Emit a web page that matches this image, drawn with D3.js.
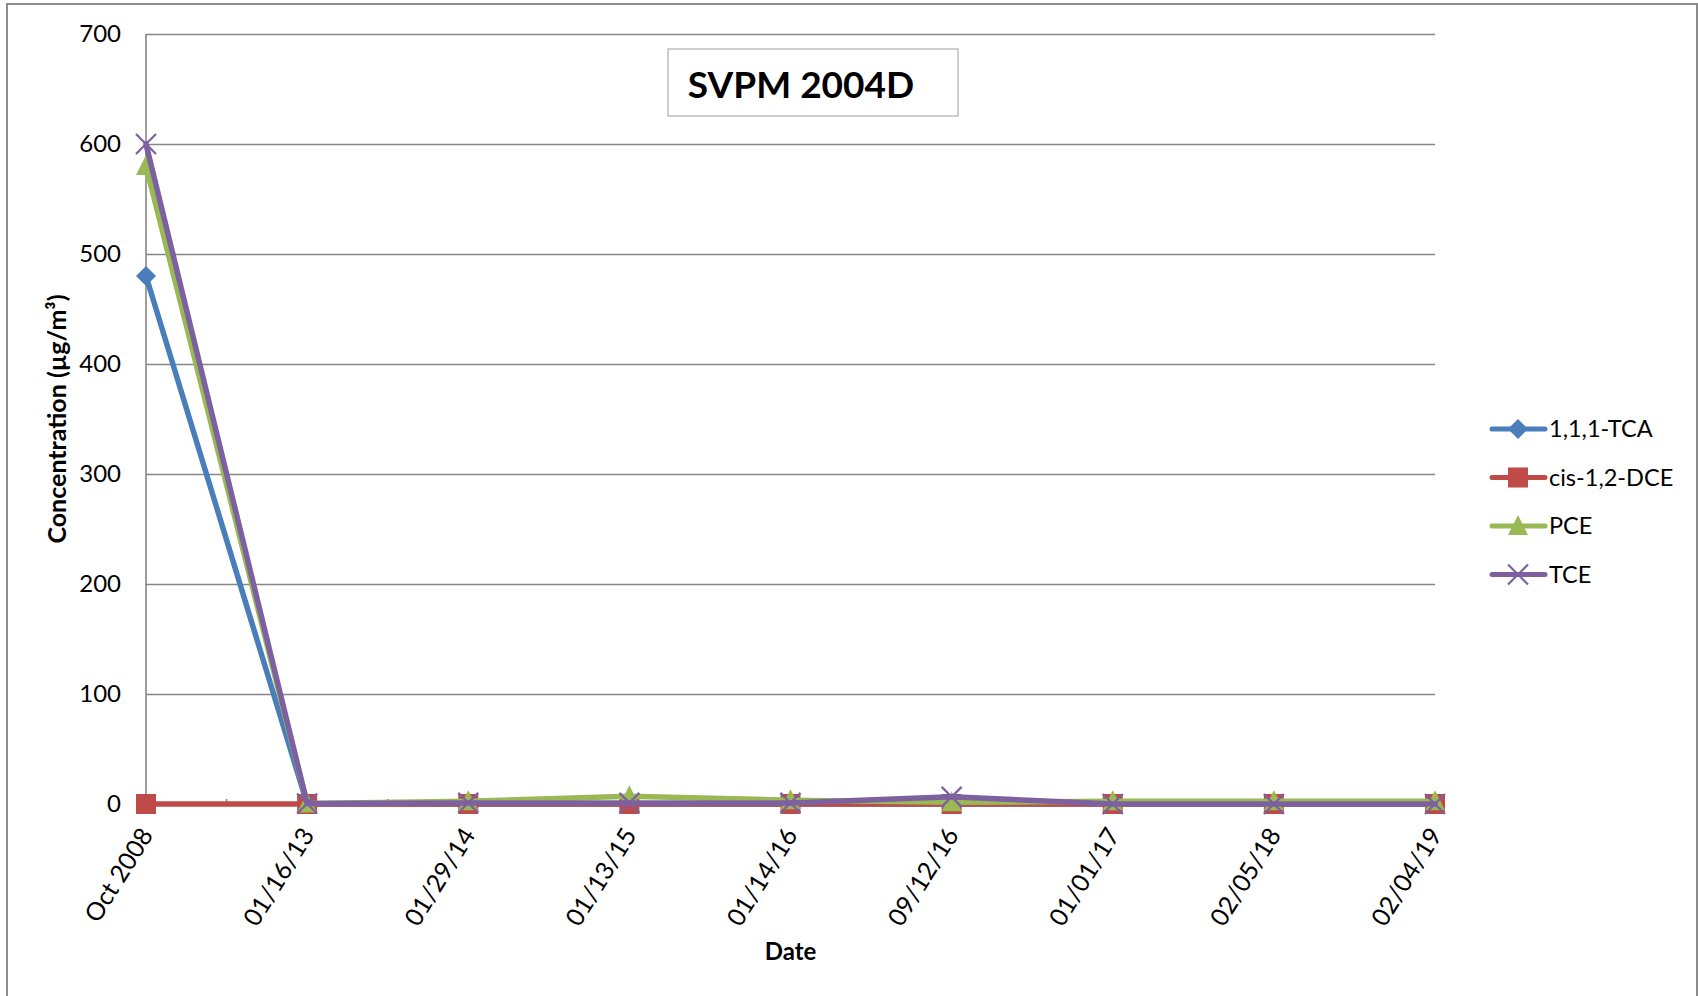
<!DOCTYPE html>
<html>
<head>
<meta charset="utf-8">
<script src="https://cdn.jsdelivr.net/npm/d3@7"></script>
<style>
    body { margin: 0; background: #fff; }
    text { font-family: Lato, "Open Sans", sans-serif; }
</style>
</head>
<body>
<div id="chart-area"></div>
<script>
var categories = ["Oct 2008", "01/16/13", "01/29/14", "01/13/15", "01/14/16", "09/12/16", "01/01/17", "02/05/18", "02/04/19"];
var tca = [480, 0, 0, 0, 0, 0, 0, 0, 0];
var dce = [0, 0, 0, 0, 0, 0, 0, 0, 0];
var pce = [580, 0.5, 2.5, 7, 3.5, 1.5, 2.5, 2.5, 2.5];
var tce = [600, 0.5, 1, 1, 1, 6.5, 0, 0, 0];
var yTicks = [0, 100, 200, 300, 400, 500, 600, 700];
var seriesNames = ["1,1,1-TCA", "cis-1,2-DCE", "PCE", "TCE"];

var series = [
    { name: seriesNames[0], values: tca, color: "#4A7EBB", marker: "diamond" },
    { name: seriesNames[1], values: dce, color: "#BE4B48", marker: "square" },
    { name: seriesNames[2], values: pce, color: "#98B954", marker: "triangle" },
    { name: seriesNames[3], values: tce, color: "#7D60A0", marker: "x" }
];

var margin = { top: 34, right: 263, bottom: 192, left: 146 };
var width = 1698 - margin.left - margin.right;
var height = 996 - margin.top - margin.bottom;

var svg = d3.select("#chart-area")
    .append("svg")
    .attr("width", 1698)
    .attr("height", 996);

// outer chart border
svg.append("rect")
    .attr("x", 7)
    .attr("y", 4)
    .attr("width", 1690)
    .attr("height", 1000)
    .attr("fill", "none")
    .attr("stroke", "#8c8c8c")
    .attr("stroke-width", 2);

var g = svg.append("g")
    .attr("transform", `translate(${margin.left}, ${margin.top})`);

var x = d3.scalePoint()
    .domain(categories)
    .range([0, width]);

var y = d3.scaleLinear()
    .domain([0, 700])
    .range([height, 0]);

// grid
g.append("g")
    .attr("class", "grid")
    .call(d3.axisLeft(y)
        .tickValues(yTicks)
        .tickSize(-width)
        .tickFormat("")
    )
    .call(s => s.select(".domain").remove())
    .selectAll("line")
    .attr("stroke", "#868686")
    .attr("stroke-width", 1.6);

// y axis line
g.append("line")
    .attr("x1", 0).attr("x2", 0)
    .attr("y1", 0).attr("y2", height)
    .attr("stroke", "#868686")
    .attr("stroke-width", 1.6);

// x axis line + small ticks between categories
g.append("line")
    .attr("x1", 0).attr("x2", width)
    .attr("y1", height).attr("y2", height)
    .attr("stroke", "#868686")
    .attr("stroke-width", 1.6);

g.selectAll(".mid-tick")
    .data(categories.slice(1))
    .enter()
    .append("line")
    .attr("class", "mid-tick")
    .attr("x1", (d, i) => (x(categories[i]) + x(d)) / 2)
    .attr("x2", (d, i) => (x(categories[i]) + x(d)) / 2)
    .attr("y1", height - 5)
    .attr("y2", height)
    .attr("stroke", "#868686")
    .attr("stroke-width", 1.6);

// y tick labels
var yAxisGroup = g.append("g")
    .call(d3.axisLeft(y).tickValues(yTicks).tickSize(0).tickPadding(25));
yAxisGroup.select(".domain").remove();
yAxisGroup.selectAll("text")
    .attr("font-family", "Lato, sans-serif")
    .attr("font-size", "24px")
    .attr("fill", "#000");

// x tick labels
g.selectAll(".x-label")
    .data(categories)
    .enter()
    .append("text")
    .attr("class", "x-label")
    .attr("transform", d => `translate(${x(d) + 8}, ${height + 31}) rotate(-58)`)
    .attr("text-anchor", "end")
    .attr("font-size", "25px")
    .attr("fill", "#000")
    .text(d => d);

// axis titles
g.append("text")
    .attr("x", x(categories[4]))
    .attr("y", height + 156)
    .attr("text-anchor", "middle")
    .attr("font-size", "24px")
    .attr("font-weight", "bold")
    .attr("fill", "#000")
    .text("Date");

g.append("text")
    .attr("transform", "rotate(-90)")
    .attr("x", -(height / 2))
    .attr("y", -80)
    .attr("text-anchor", "middle")
    .attr("font-size", "25px")
    .attr("font-weight", "bold")
    .attr("fill", "#000")
    .text("Concentration (µg/m³)");

// title box
svg.append("rect")
    .attr("x", 668)
    .attr("y", 49)
    .attr("width", 290)
    .attr("height", 67)
    .attr("fill", "#fff")
    .attr("stroke", "#bfbfbf")
    .attr("stroke-width", 1.5);

svg.append("text")
    .attr("x", 801)
    .attr("y", 98)
    .attr("text-anchor", "middle")
    .attr("font-size", "37px")
    .attr("font-weight", "bold")
    .attr("fill", "#000")
    .text("SVPM 2004D");

function drawMarker(sel, type, color) {
    if (type === "diamond") {
        sel.append("path")
            .attr("d", "M0,-10L10,0L0,10L-10,0Z")
            .attr("fill", color);
    } else if (type === "square") {
        sel.append("rect")
            .attr("x", -10).attr("y", -10)
            .attr("width", 20).attr("height", 20)
            .attr("fill", color);
    } else if (type === "triangle") {
        sel.append("path")
            .attr("d", "M0,-11L10,9L-10,9Z")
            .attr("fill", color);
    } else {
        sel.append("path")
            .attr("d", "M-10,-10L10,10M-10,10L10,-10")
            .attr("stroke", color)
            .attr("stroke-width", 2.2)
            .attr("fill", "none");
    }
}

var line = d3.line()
    .x((d, i) => x(categories[i]))
    .y(d => y(d));

series.forEach(s => {
    var sg = g.append("g");
    sg.append("path")
        .datum(s.values)
        .attr("d", line)
        .attr("fill", "none")
        .attr("stroke", s.color)
        .attr("stroke-width", 5.5)
        .attr("stroke-linejoin", "round")
        .attr("stroke-linecap", "round");

    sg.selectAll(".marker")
        .data(s.values)
        .enter()
        .append("g")
        .attr("class", "marker")
        .attr("transform", (d, i) => `translate(${x(categories[i])}, ${y(d)})`)
        .each(function () { drawMarker(d3.select(this), s.marker, s.color); });
});

// legend
var legend = svg.append("g")
    .attr("transform", "translate(1492, 429)");

var rows = legend.selectAll(".legend-row")
    .data(series)
    .enter()
    .append("g")
    .attr("class", "legend-row")
    .attr("transform", (d, i) => `translate(0, ${i * 48.5})`);

rows.append("line")
    .attr("x1", 0).attr("x2", 53)
    .attr("stroke", d => d.color)
    .attr("stroke-width", 5)
    .attr("stroke-linecap", "round");

rows.append("g")
    .attr("transform", "translate(26, 0)")
    .each(function (d) { drawMarker(d3.select(this), d.marker, d.color); });

rows.append("text")
    .attr("x", 57)
    .attr("y", 8)
    .attr("font-size", "23.5px")
    .attr("fill", "#000")
    .text(d => d.name);
</script>
</body>
</html>
